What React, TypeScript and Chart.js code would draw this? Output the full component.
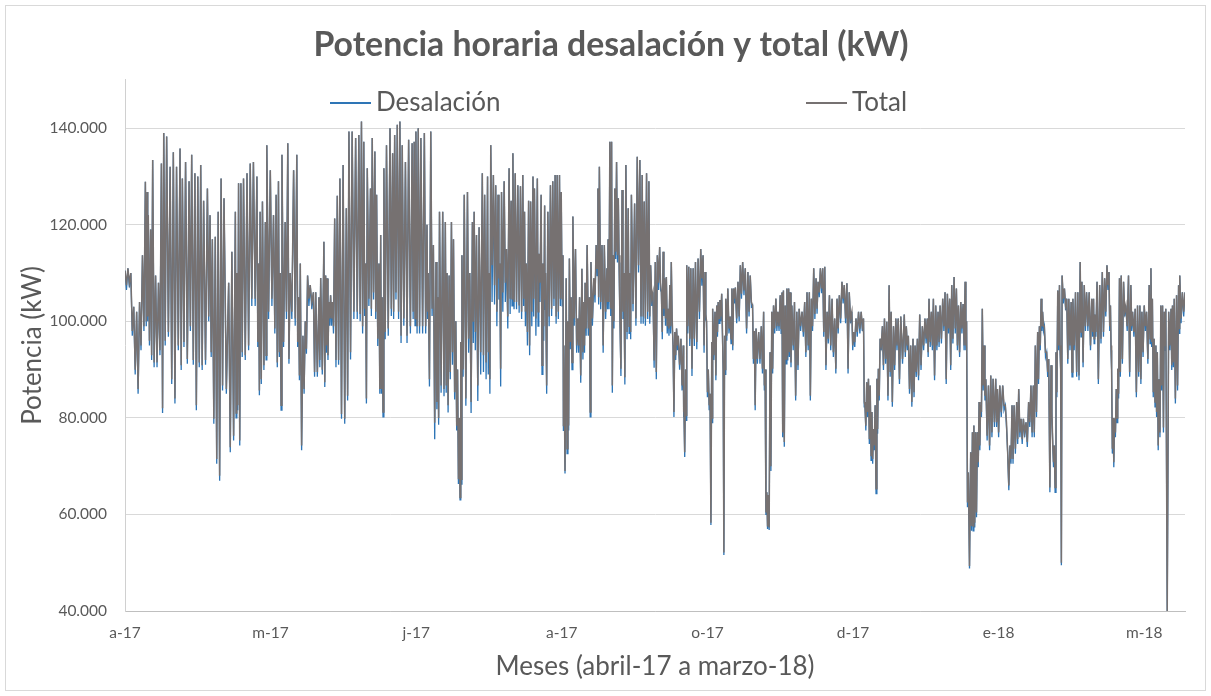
import React, { useEffect, useRef } from "react";
import { Chart, registerables } from "chart.js";

Chart.register(...registerables);

// ---------- Data (values in thousands of kW) ----------
const TITLE = "Potencia horaria desalación y total (kW)";
const X_TITLE = "Meses (abril-17 a marzo-18)";
const Y_TITLE = "Potencia (kW)";
const SERIES_NAMES = ["Desalación", "Total"];

// x tick positions (days since 1 April 2017) and their labels
const TICK_DAYS = [0, 50, 100, 150, 200, 250, 300, 350];
const TICK_LABELS = ["a-17", "m-17", "j-17", "a-17", "o-17", "d-17", "e-18", "m-18"];
const Y_TICKS = [40, 60, 80, 100, 120, 140];

// day of each daily cycle (peak)
const DAYS = [
  0, 1, 2, 3, 4, 5, 6, 7, 7.6, 8, 8.8, 9.5, 10.5, 11.5, 12.5, 13.3, 14.3, 15.5, 16.6, 17.7, 18.9, 19.7, 20.8, 22, 22.9, 24, 25, 26, 27, 28.3, 29.2, 30, 31, 32,
  33, 34, 35.6, 36.7, 37.9, 38.4, 39, 39.8, 40.7, 41.9, 43, 44.1, 45.3, 45.9, 46.4, 47.2, 48.2, 48.7, 49.9, 51, 51.9, 52.7, 53.3, 53.9, 55, 55.9, 56.7, 57.9, 59, 59.6, 60.2, 61.1, 61.9, 62.7, 63.6, 64.7,
  65.5, 66.6, 67.2, 68.3, 68.9, 69.4, 70, 70.6, 71.2, 72, 72.9, 73.8, 74.9, 76, 76.9, 78, 79.2, 80.3, 81.2, 82, 82.6, 83.2, 84.3, 84.9, 85.8, 86.4, 87.2, 87.8, 88.3, 88.9, 89.8, 91, 91.9, 92.6, 93.5, 94.4, 95.2, 96.3, 97.4, 98.6,
  99.3, 99.9, 100.7, 101.6, 102.8, 103.7, 104.1, 105, 105.9, 106.8, 107.4, 108, 109.1, 110, 110.6, 111.3, 112.1, 112.8, 113.6, 114.2, 114.8, 115.3, 115.7, 116.5, 117.6, 118.4, 119.3, 119.9, 120.7, 121.6, 122.7, 123.5, 124.5, 125, 125.6, 126.5, 127.3, 128.1, 128.7, 129.3, 130.2, 131, 131.9,
  132.6, 133.2, 134, 134.9, 135.8, 136.6, 137.2, 137.8, 138.6, 139.3, 140.1, 140.6, 141.6, 142.1, 142.9, 143.5, 144.1, 144.4, 145.2, 146.1, 146.9, 147.7, 148.4, 149.2, 149.8, 150.4, 150.7, 151.5, 152.1, 152.6, 153.2, 153.8, 154.7, 155.5, 156.1, 156.9, 157.6, 158, 158.7, 159.5, 160, 161, 161.8, 162.4, 162.9, 163.8, 164.6, 165.5,
  165.9, 166.5, 167.1, 167.6, 168.2, 168.8, 169.4, 169.9, 170.7, 171.3, 172, 172.8, 173.4, 173.9, 175, 175.9, 176.8, 177.6, 178.3, 179.1, 179.9, 180.5, 181.3, 182.1, 182.8, 183.6, 184.2, 184.8, 185.3, 185.9, 186.5, 187.1, 187.6, 188.2, 188.8, 189.4, 190, 190.9, 191.7, 191.9, 192.5, 192.9, 193.6, 194.3, 195.1, 195.9, 196.8, 197.7, 198.5,
  199.2, 199.7, 200.3, 200.9, 201.5, 201.8, 202.6, 203.2, 203.7, 204.3, 204.9, 205.4, 205.9, 206.3, 207, 207.8, 208.4, 209, 209.6, 210.5, 211.3, 212.1, 213, 213.9, 214.7, 215.5, 216.1, 216.7, 217.6, 218.5, 219.3, 219.8, 220.4, 220.9, 221.5, 222.1, 222.7, 223.5, 224.2, 225, 225.6, 226.1, 226.7, 227.3, 227.9, 228.4, 229, 229.9, 230.7, 231.5,
  232.5, 233.4, 234.2, 235, 235.7, 236.5, 237.3, 238, 238.8, 239.6, 240.3, 241.1, 241.9, 242.8, 243.7, 244.5, 245.3, 246.2, 247, 247.9, 248.7, 249.6, 250.2, 251, 251.9, 252.8, 253.6, 254.1, 254.7, 255.3, 255.9, 256.5, 257, 257.6, 258.2, 258.7, 259.3, 260.1, 260.8, 261.6, 262.4, 263.1, 263.9, 264.7,
  265.5, 266.4, 267.6, 268.3, 269, 269.8, 270.6, 271.3, 272.1, 272.9, 273.8, 274.7, 275.5, 276.1, 276.9, 277.6, 278.4, 279.2, 279.9, 280.8, 281.6, 282.4, 283.2, 283.9, 284.7, 285.5, 286.2, 287, 287.8, 288.5, 289, 289.6, 290.4, 291, 291.5, 292.1, 292.7, 293.3, 293.8, 294.4, 295, 295.6, 296.5, 297.3, 298.1,
  299, 299.6, 300.4, 301.4, 302.3, 303.1, 303.9, 304.6, 305.3, 306.2, 306.9, 307.7, 308.5, 309.4, 310.3, 311.1, 311.9, 312.6, 313.4, 314, 314.6, 315.1, 315.7, 316.5, 317.2, 318, 318.6, 319.1, 319.7, 320.3, 320.9, 321.3, 321.8, 322.6, 323.4, 324.1, 324.9, 325.5, 326.4, 327.2, 328, 328.6, 329.4, 330.2, 331.1, 332,
  332.6, 333, 333.8, 334.7, 335.6, 336.4, 337.2, 337.9, 338.4, 338.8, 339.3, 339.8, 340.4, 340.9, 341.5, 342.1, 342.9, 343.7, 344.6, 345.4, 346, 346.9, 347.7, 348.5, 349.2, 350, 350.8, 351.7, 352.3, 352.8, 353.4, 354, 354.5, 355.1, 355.7, 356.3, 356.9, 357.4, 358.4, 359.2, 359.7, 360.3, 361.1, 361.8, 362.2, 363.1, 364,
];

// Total: daily peak
const TOTAL_HIGH = [
  110.5, 111, 110, 103, 102, 104, 113.7, 128.9, 126.8, 122, 119, 133.4, 109.5, 108, 132.7, 139, 138.3, 132, 135, 132, 135.8, 129.6, 133, 129, 134.5, 130.7, 130, 132.4, 125, 127.5, 122, 117, 117.5, 122.7,
  129.6, 125.5, 108, 114.4, 122.7, 110, 128.6, 128.6, 129.6, 130.7, 132.7, 133, 130, 112, 122.7, 124.8, 120.6, 136.5, 131.3, 122, 126.2, 129, 110, 134.5, 120.6, 136.9, 110, 131.3, 134.5, 105, 112, 97, 100, 109.5, 107.5, 106,
  106, 105, 109, 116.5, 109.5, 108.9, 104, 105.4, 104, 121.3, 126, 129.6, 132.4, 123.4, 139.3, 139.3, 138, 138.6, 141.4, 137.2, 112, 131.7, 127.5, 138, 135.2, 126.2, 112, 117.9, 105, 131.7, 136.5, 140, 134.8, 138.6, 140.7, 141.4, 136.5, 133, 137.6, 136.9,
  137.2, 139.3, 140, 138, 139, 120, 110, 139.3, 115.8, 112.3, 105, 122.7, 122.7, 120.6, 110, 109.5, 120.6, 117, 100, 90, 80, 95.7, 113.7, 126.2, 126.8, 110, 120.6, 122.7, 117.9, 119.5, 130.7, 126.2, 130, 110, 136.5, 130.3, 128.2, 126.2, 112, 126.8, 129, 115, 131.7,
  125, 134.8, 130.7, 128.2, 128, 130.3, 122.7, 112, 125, 124.8, 130, 127.5, 129.6, 114, 126.2, 112, 124, 110, 122.7, 128.2, 129, 130.3, 130.3, 130.3, 126.8, 113.7, 95, 108.9, 100, 113, 105, 121.7, 115, 100.6, 105, 110.9, 104, 108, 115.8, 105, 112.3, 108.9, 115.8, 127.5, 132, 115.8, 115.8, 111,
  117, 137.2, 137.2, 113.7, 127.5, 133, 125.5, 102.6, 127.2, 110, 132.4, 123.4, 110, 126.2, 124.4, 134.1, 133.4, 130.3, 124.8, 130.7, 129, 111.6, 106, 112.3, 113.7, 115.4, 106, 114.4, 108.9, 109.2, 102.6, 107.5, 112.3, 95, 97.8, 98.5, 97, 96.4, 95, 85, 90, 111.6, 111.3, 111, 111, 112.3, 113, 115, 113.7,
  110.2, 100, 90, 85, 95.7, 102.6, 102, 103.3, 104, 104.4, 105.7, 90, 97, 104.7, 106.8, 101, 106.8, 106.8, 107, 108.2, 111.6, 112.3, 111, 110.2, 109.5, 103.3, 98, 98.5, 97.8, 99, 102, 90, 64.6, 64, 93.6, 102, 103.3, 104.7, 102, 105.4, 106, 106.4, 103.3, 106.8, 106.8, 106, 103.3, 104, 102, 102.6,
  102, 104, 106, 106, 104.7, 111, 108.9, 108.2, 111, 111, 111.3, 102, 105.4, 104.7, 100.6, 104.7, 105.4, 108.2, 107.5, 107.9, 106, 102, 97.8, 100.6, 102, 102, 100.6, 82.6, 87.4, 88.1, 86.7, 81.2, 77.7, 82.6, 88.1, 90.2, 96.4, 99, 100.6, 99.9, 107.5, 102, 99, 100.6,
  100.6, 101, 101.4, 99, 97, 95, 96.4, 95, 96.4, 101.4, 99, 100.6, 100.6, 104.7, 102, 104.7, 103.3, 102, 103.3, 104.7, 106, 105.7, 104.7, 107.5, 109.2, 106.8, 103.3, 104, 103.6, 108.2, 100, 68.7, 72.9, 77, 78.4, 77, 77, 83.3, 82.6, 102.6, 95, 88, 86.7, 88.8, 88.1,
  88.1, 86, 86.7, 86.7, 82.6, 72.9, 74.3, 82.6, 82.6, 83.3, 86, 79.8, 79.8, 79.1, 83.3, 86.7, 86.7, 95, 97.8, 99, 104.7, 102, 99, 93.6, 92.2, 90.9, 74.3, 74.3, 93.6, 106.4, 107.5, 90, 109.5, 106.8, 104.7, 104.7, 104, 104.7, 106, 106, 112.3, 108.2, 107.5, 106, 106, 104.7,
  104.7, 101.4, 108.2, 107.5, 110.2, 108.9, 111.6, 110.2, 103.3, 90, 80, 79.8, 86, 90.2, 108.9, 109.5, 108.2, 103.3, 109.5, 107.5, 102, 102.6, 103.3, 103.3, 102, 103.3, 102, 107.5, 111, 104.7, 96.4, 95, 93.6, 88, 103.3, 103.3, 102, 102.6, 102, 102.6, 103.3, 104.7, 105.4, 107.5, 109.5, 106, 106,
];

// Total: daily trough
const TOTAL_LOW = [
  107.5, 108, 98, 90, 86, 95, 99, 100, 101, 96, 93, 91.5, 91.5, 94, 82, 96, 97.8, 88, 84, 95, 90.9, 95.7, 92.2, 99, 92, 82.6, 91.5, 90.9, 92, 101, 93.6, 79.8, 71.5, 68,
  86.7, 86, 73.9, 76.3, 81, 82.6, 75.3, 93.6, 93, 95, 104.7, 104.7, 95.7, 85.7, 88, 90.9, 93, 102, 104.7, 98.5, 91.5, 93.6, 82.6, 95.7, 102, 92.2, 102, 100.6, 95.7, 88.8, 74.3, 86, 94.3, 104.7, 104, 89.5,
  89.5, 92, 90, 87.4, 95, 93, 100.6, 100.6, 99, 92, 92, 80.8, 79.8, 84.6, 93.6, 102, 102, 101.5, 99, 102.6, 84, 104.7, 102.6, 106, 102, 96.4, 86, 86, 81.2, 97.8, 98.5, 102.6, 102, 106, 102, 97, 100.6, 97, 99, 102,
  100.6, 99, 99, 99, 99, 102, 88, 102.6, 79, 83.3, 80, 86.7, 86, 86.7, 82.6, 89.5, 93.6, 85.3, 78.4, 67.3, 63.5, 67.3, 90, 84, 96.4, 83.3, 99.9, 97.8, 86.7, 93.6, 93, 91.5, 93.6, 88, 111.6, 107.5, 102, 108.9, 90.2, 106, 108, 101, 104.7,
  104.7, 104, 104, 103.3, 102, 104.7, 102, 97.8, 95, 102, 104.7, 100.6, 102, 108, 90.9, 99, 104.7, 86.7, 101, 102.6, 104.7, 101, 102, 104.7, 104.7, 78.4, 69, 73.6, 78.4, 95.7, 91.5, 100.6, 95, 95, 88.8, 93.6, 95, 98.5, 98.5, 81.2, 100.6, 105.4, 111, 105, 104, 95, 102, 104,
  104, 102.6, 86.7, 100, 114.4, 113.7, 113.7, 90.2, 102, 88.4, 97.8, 99, 97.8, 103.6, 100.6, 111.6, 101, 101, 100.6, 102, 101, 104.7, 91.9, 89.5, 108, 108, 97.8, 102.6, 100.6, 99, 98.5, 99, 100.6, 81.2, 93, 95, 91, 86.7, 81.2, 72.9, 80.5, 99, 96.4, 90.2, 96.4, 95.7, 102, 108.9, 95,
  101.5, 85.3, 82.6, 58.3, 80, 93, 88.8, 97.8, 100.6, 101, 98.5, 52.1, 90, 97, 98.5, 96.4, 95, 104.7, 100.6, 101, 105.7, 106.4, 98.5, 102, 104, 92.2, 82.6, 92.2, 92.2, 90.2, 86.7, 60.4, 57.5, 57.3, 70, 90.2, 98.5, 99, 99, 98.5, 77, 75, 92.2, 92.9, 93.6, 91.5, 95, 84.6, 90.9, 99,
  97.8, 93.6, 95, 84.6, 99, 101.5, 102.6, 106, 106.8, 97.8, 90.9, 96.4, 95, 93.6, 90.2, 98.5, 100.6, 104.7, 100.6, 90.2, 100.6, 95, 95.7, 97.8, 98.5, 99, 83.3, 78.4, 81.2, 75.6, 72.2, 71.5, 74.3, 65.3, 77.7, 84.6, 95, 90.9, 92.2, 84.6, 89.5, 83.3, 90.9, 95,
  88, 92.2, 93.6, 95, 86, 83.3, 85.3, 89.5, 88.8, 90.9, 95, 96.4, 93.6, 95.7, 95, 88.8, 95, 95.7, 96.4, 99, 88, 98.5, 90.9, 96.4, 98.5, 95, 93.6, 98.5, 95, 95, 62.5, 49.3, 57.6, 57.6, 58.3, 60.4, 70.8, 74.3, 81.2, 86.7, 84.6, 76.3, 74.3, 77, 79.1,
  79.1, 77, 81.2, 82.6, 79.1, 66, 71.5, 71.5, 73.6, 75.6, 77, 75.6, 77, 75, 79.1, 77, 77, 81.2, 88, 95, 99, 99, 93.6, 89.5, 65.6, 81.2, 70.8, 65.6, 85.3, 95, 95, 50, 104.7, 103.3, 92.2, 95, 89.5, 95, 89.5, 88.8, 97.8, 91.5, 99, 99, 95, 97.8,
  96.4, 97.8, 88, 96.4, 97.8, 102, 107.5, 99, 95, 73.6, 70.8, 77, 80, 85, 89.5, 92.2, 102, 99, 89.5, 99, 97.8, 85.3, 89.5, 88, 93.6, 99, 92.2, 96.4, 95.7, 85.3, 83.3, 81.2, 74.3, 77, 86.7, 78, 95, 40, 95, 90.9, 91.5, 84, 86.7, 98.5, 100.6, 102, 104.7,
];

// Desalación: daily trough (its peaks sit under the Total peaks)
const DESAL_LOW = [
  106.5, 107, 97, 89, 85, 94, 98, 99, 100, 95, 92, 90.5, 90.5, 93, 81, 95, 96.8, 87, 83, 94, 89.9, 94.7, 91.2, 98, 91, 81.6, 90.5, 89.9, 91, 100, 92.6, 78.8, 70.5, 67,
  85.7, 85, 72.9, 75.3, 80, 81.6, 74.3, 92.6, 92, 94, 103.2, 103.2, 94.7, 84.7, 87, 89.9, 92, 100.5, 103.2, 97.5, 90.5, 92.6, 81.6, 94.7, 100.5, 91.2, 100.5, 99.1, 94.7, 87.8, 73.3, 85, 93.3, 103.2, 102.5, 88.5,
  88.5, 90.5, 89, 86.4, 93.5, 92, 99.1, 99.1, 97.5, 90.5, 91, 79.8, 78.8, 83.6, 92.1, 100.5, 100.5, 100, 97.5, 101.1, 83, 103.2, 101.1, 104.5, 100.5, 94.9, 85, 85, 80.2, 96.3, 97, 101.1, 100.5, 104.5, 100.5, 95.5, 99.1, 95.5, 97.5, 100.5,
  99.1, 97.5, 97.5, 97.5, 97.5, 100.5, 86.5, 101.1, 75.6, 81.8, 78.6, 85.2, 84.5, 85.2, 81.1, 88, 91, 83.8, 77.4, 66.3, 63, 66.3, 88.5, 82.5, 93.5, 81, 95.5, 94, 83.5, 89, 89.5, 88, 89, 85, 104, 103.5, 99, 104.5, 86.5, 102, 104, 98.5, 101.5,
  103.2, 102.5, 102.5, 101.8, 100.5, 103.2, 99, 95, 93, 99, 101, 97, 99, 104, 89, 96, 102.5, 85, 99, 101.1, 103.2, 99.5, 100.5, 103.2, 103.2, 77.4, 68.5, 72.6, 77.4, 94.2, 90, 99.1, 93.5, 93.5, 87.3, 92.1, 93.5, 97, 97, 80.2, 99.1, 103.9, 109.5, 103.5, 102.5, 93.5, 100.5, 102.5,
  102.5, 101.1, 85.2, 98.5, 112.9, 112.2, 112.2, 88.7, 100.5, 86.9, 96.3, 97.5, 96.3, 102.1, 99.1, 110.1, 99.5, 99.5, 99.1, 100.5, 99.5, 103.2, 90.4, 88, 106.5, 106.5, 96.3, 101.1, 99.1, 97.5, 97, 97.5, 99.1, 80.2, 92, 94, 90, 85.7, 80.2, 71.9, 79.5, 97.5, 94.9, 88.7, 94.9, 94.2, 100.5, 107.4, 93.5,
  100.3, 84.3, 81.6, 57.8, 79, 92, 87.8, 96.8, 99.6, 100, 97.5, 51.6, 89, 96, 97.5, 95.4, 94, 103.7, 99.6, 100, 104.7, 105.4, 97.5, 101, 103, 91.2, 81.6, 91.2, 91.2, 89.2, 85.7, 59.9, 57, 56.8, 69, 89.2, 97.5, 98, 98, 97.5, 76, 74, 91.2, 91.9, 92.6, 90.5, 94, 83.6, 89.9, 98,
  96.8, 92.6, 94, 83.6, 98, 100.5, 101.6, 105, 105.8, 96.8, 89.9, 95.4, 94, 92.6, 89.2, 97.5, 99.6, 103.7, 99.6, 89.2, 99.6, 94, 94.7, 96.8, 97.5, 98, 82.3, 77.4, 80.2, 74.6, 71.2, 70.5, 73.3, 64.3, 76.7, 83.6, 94, 89.9, 91.2, 83.6, 88.5, 82.3, 89.9, 94,
  87, 91.2, 92.6, 94, 85, 82.3, 84.3, 88.5, 87.8, 89.9, 94, 95.4, 92.6, 94.7, 94, 87.8, 94, 94.7, 95.4, 98, 87, 97.5, 89.9, 95.4, 97.5, 94, 92.6, 97.5, 94, 94, 61.5, 48.8, 56.6, 56.6, 57.3, 59.4, 69.8, 73.3, 80.2, 85.7, 83.6, 75.3, 73.3, 76, 78.1,
  78.1, 76, 80.2, 81.6, 78.1, 65, 70.5, 70.5, 72.6, 74.6, 76, 74.6, 76, 74, 78.1, 76, 76, 80.2, 87, 94, 98, 98, 92.6, 88.5, 64.6, 80.2, 69.8, 64.6, 84.3, 94, 94, 49.5, 103.7, 102.3, 91.2, 94, 88.5, 94, 88.5, 87.8, 96.8, 90.5, 98, 98, 94, 96.8,
  95.4, 96.8, 87, 95.4, 96.8, 101, 106.5, 98, 94, 72.6, 69.8, 76, 79, 84, 88.5, 91.2, 101, 98, 88.5, 98, 96.8, 84.3, 88.5, 87, 92.6, 98, 91.2, 95.4, 94.7, 84.3, 82.3, 80.2, 73.3, 76, 85.7, 77, 94, 40, 94, 89.9, 90.5, 83, 85.7, 97.5, 99.6, 101, 103.7,
];

// ---------- Styling ----------
const FONT = "Lato";
const TEXT_COLOR = "#595959";
const BLUE = "#2e75b6";
const GRAY = "#767171";

function buildPoints(highs: number[], lows: number[]) {
  const pts: { x: number; y: number }[] = [];
  const n = Math.min(DAYS.length, highs.length, lows.length);
  for (let i = 0; i < n; i++) {
    const next = i + 1 < n ? DAYS[i + 1] : DAYS[i] + 0.6;
    pts.push({ x: DAYS[i], y: highs[i] });
    pts.push({ x: (DAYS[i] + next) / 2, y: lows[i] });
  }
  return pts;
}

const framePlugin = {
  id: "frame",
  beforeDraw(chart: any) {
    const { ctx, width, height } = chart;
    ctx.save();
    ctx.fillStyle = "#ffffff";
    ctx.fillRect(0, 0, width, height);
    ctx.strokeStyle = "#d9d9d9";
    ctx.lineWidth = 1;
    ctx.strokeRect(5.5, 5.5, width - 11, height - 11);
    ctx.restore();
  },
};

const legendPlugin = {
  id: "inlineLegend",
  afterDraw(chart: any) {
    const { ctx, chartArea } = chart;
    const y = chartArea.top + 23;
    const items = [
      { text: chart.data.datasets[1].label, color: BLUE, x: chartArea.left + 205 },
      { text: chart.data.datasets[0].label, color: GRAY, x: chartArea.left + 681 },
    ];
    ctx.save();
    ctx.font = `26px ${FONT}`;
    ctx.textBaseline = "middle";
    ctx.textAlign = "left";
    for (const it of items) {
      ctx.strokeStyle = it.color;
      ctx.lineWidth = 2;
      ctx.beginPath();
      ctx.moveTo(it.x, y);
      ctx.lineTo(it.x + 41, y);
      ctx.stroke();
      ctx.fillStyle = TEXT_COLOR;
      ctx.fillText(it.text, it.x + 46, y);
    }
    ctx.restore();
  },
};

export default function App() {
  const canvasRef = useRef<HTMLCanvasElement | null>(null);

  useEffect(() => {
    if (!canvasRef.current) return;
    const chart = new Chart(canvasRef.current, {
      type: "line",
      data: {
        datasets: [
          {
            label: SERIES_NAMES[1],
            data: buildPoints(TOTAL_HIGH, TOTAL_LOW),
            borderColor: GRAY,
            backgroundColor: GRAY,
            borderWidth: 1.5,
            pointRadius: 0,
            tension: 0,
          },
          {
            label: SERIES_NAMES[0],
            data: buildPoints(TOTAL_HIGH, DESAL_LOW),
            borderColor: BLUE,
            backgroundColor: BLUE,
            borderWidth: 1.3,
            pointRadius: 0,
            tension: 0,
          },
        ],
      },
      options: {
        animation: false,
        responsive: true,
        maintainAspectRatio: false,
        parsing: false as any,
        layout: { padding: { top: 0, left: 11, right: 0, bottom: 0 } },
        plugins: {
          legend: { display: false },
          tooltip: { enabled: false },
          title: {
            display: true,
            text: TITLE,
            color: TEXT_COLOR,
            font: { family: FONT, size: 33.8, weight: "bold" },
            padding: { top: 24.7, bottom: 14.7 },
          },
        },
        scales: {
          x: {
            type: "linear",
            min: 0,
            max: 364,
            afterBuildTicks: (axis: any) => {
              axis.ticks = TICK_DAYS.map((v) => ({ value: v }));
            },
            afterFit: (axis: any) => {
              axis.height = 85;
            },
            ticks: {
              autoSkip: false,
              maxRotation: 0,
              padding: 13,
              color: TEXT_COLOR,
              font: { family: FONT, size: 15.5 },
              callback: (v: any) => {
                const i = TICK_DAYS.indexOf(Number(v));
                return i >= 0 ? TICK_LABELS[i] : "";
              },
            },
            grid: { display: false, drawTicks: false },
            border: { display: true, color: "#bfbfbf", width: 1 },
            title: {
              display: true,
              text: X_TITLE,
              color: TEXT_COLOR,
              font: { family: FONT, size: 26 },
              padding: { top: 4, bottom: 13.5 },
            },
          },
          y: {
            type: "linear",
            min: 40,
            max: 150,
            afterBuildTicks: (axis: any) => {
              axis.ticks = Y_TICKS.map((v) => ({ value: v }));
            },
            afterFit: (axis: any) => {
              axis.width = 114;
            },
            ticks: {
              padding: 18,
              color: TEXT_COLOR,
              font: { family: FONT, size: 15.5 },
              callback: (v: any) => `${v}.000`,
            },
            grid: { color: "#d9d9d9", lineWidth: 1, drawTicks: false },
            border: { display: true, color: "#d0d0d0", width: 1 },
            title: {
              display: true,
              text: Y_TITLE,
              color: TEXT_COLOR,
              font: { family: FONT, size: 26 },
              padding: { top: 6, bottom: 4 },
            },
          },
          // empty right-hand spacer axis that keeps the plot clear of the right frame
          ySpacer: {
            type: "linear",
            position: "right",
            min: 0,
            max: 1,
            afterFit: (axis: any) => {
              axis.width = 26;
            },
            ticks: { display: false },
            grid: { display: false, drawTicks: false },
            border: { display: false },
            title: { display: false },
          },
        },
      },
      plugins: [framePlugin, legendPlugin],
    } as any);
    return () => chart.destroy();
  }, []);

  return (
    <div style={{ position: "fixed", left: 0, top: 0, width: 1211, height: 696, background: "#fff" }}>
      <canvas ref={canvasRef} />
    </div>
  );
}
